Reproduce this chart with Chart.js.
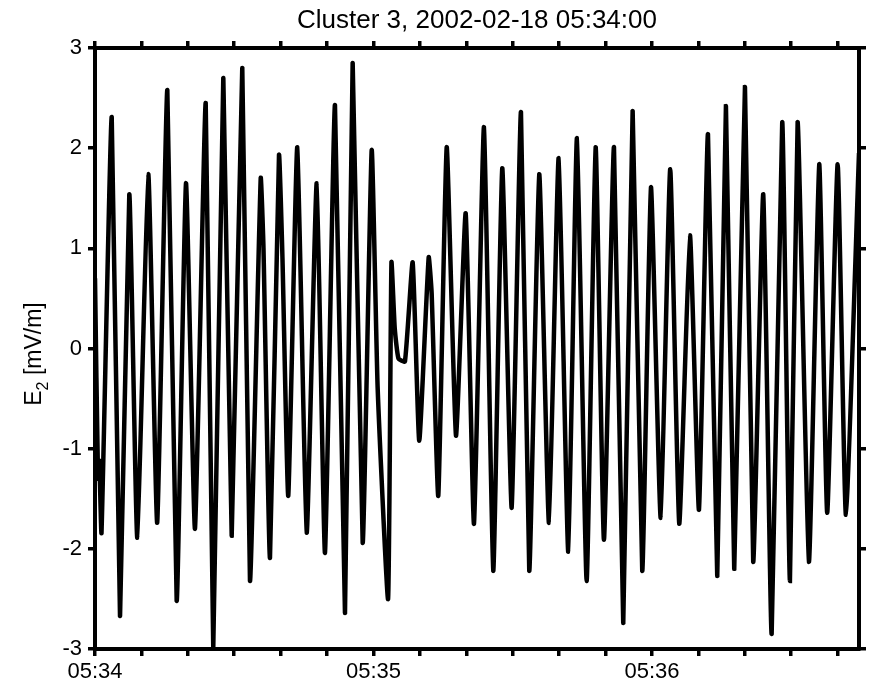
<!DOCTYPE html>
<html>
<head>
<meta charset="utf-8">
<script src="https://cdn.jsdelivr.net/npm/chart.js@4"></script>
<style>
  html, body { margin: 0; padding: 0; background: #ffffff; }
  #wrap { width: 874px; height: 689px; position: relative; }
</style>
</head>
<body>
<div id="wrap"><canvas id="c" width="874" height="689"></canvas></div>
<script>
// Seconds after 05:34:00 UT
const times = [
  0.00, 0.65, 0.93, 1.40, 3.60, 5.39, 7.39, 9.11, 11.48, 13.40,
  15.58, 17.60, 19.60, 21.54, 23.85, 25.48, 27.64, 29.45, 31.73, 33.39,
  35.70, 36.30, 37.70, 39.64, 40.39, 41.64, 43.58, 45.61, 47.76, 49.55,
  51.70, 53.86, 55.51, 57.67, 59.61, 60.90, 63.14, 63.87, 64.58, 65.38,
  66.78, 68.44, 69.86, 71.89, 72.53, 73.96, 75.77, 77.77, 79.86, 81.65,
  83.80, 85.80, 87.74, 89.77, 91.77, 93.56, 95.71, 97.80, 99.89, 101.96,
  103.83, 105.92, 107.86, 109.65, 111.81, 113.81, 115.83, 117.90, 119.78, 121.87,
  123.93, 125.87, 128.18, 130.12, 132.06, 134.06, 135.93, 137.72, 140.03, 141.81,
  143.97, 145.78, 148.06, 149.72, 151.38, 153.81, 156.03, 157.75, 160.00, 161.78,
  164.60
];
// E2 electric field [mV/m]
const e2 = [
  0.70, -1.30, -1.12, -1.84, 2.31, -2.67, 1.54, -1.89, 1.74, -1.74,
  2.58, -2.52, 1.65, -1.80, 2.45, -2.99, 2.70, -1.87, 2.80, -2.32,
  1.70, 1.00, -2.09, 1.93, 0.90, -1.47, 2.01, -1.84, 1.65, -2.04,
  2.43, -2.64, 2.85, -1.94, 1.98, -0.40, -2.50, 0.86, 0.20, -0.10,
  -0.13, 0.86, -0.92, 0.91, 0.55, -1.47, 2.01, -0.87, 1.35, -1.75,
  2.21, -2.22, 1.80, -1.59, 2.36, -2.22, 1.74, -1.74, 1.90, -2.03,
  2.10, -2.32, 2.01, -1.91, 2.01, -2.74, 2.37, -2.22, 1.61, -1.69,
  1.79, -1.75, 1.13, -1.61, 2.14, -2.27, 2.42, -2.20, 2.61, -2.13,
  1.54, -2.85, 2.26, -2.32, 2.26, -2.13, 1.84, -1.64, 1.84, -1.66,
  1.95
];
const minuteTicks = [0, 60, 120];
const minuteLabels = ['05:34', '05:35', '05:36'];
const yTickValues = [-3, -2, -1, 0, 1, 2, 3];

const FONT = '"Liberation Sans", Arial, Helvetica, sans-serif';
const points = times.map((t, i) => ({ x: t, y: e2[i] }));

function xLabel(v) {
  for (let i = 0; i < minuteTicks.length; i++) {
    if (Math.abs(v - minuteTicks[i]) < 1e-6) return minuteLabels[i];
  }
  return '';
}

const gridOpts = {
  drawOnChartArea: false, drawTicks: true, tickLength: 7,
  tickWidth: 3.5, tickColor: '#000', color: '#000', lineWidth: 3.5
};
const borderOpts = { display: true, color: '#000', width: 4 };

const yTitlePlugin = {
  id: 'yTitle',
  afterDraw(chart) {
    const ctx = chart.ctx;
    ctx.save();
    ctx.fillStyle = '#000';
    ctx.textBaseline = 'alphabetic';
    ctx.textAlign = 'left';
    const big = '23px ' + FONT, small = '16px ' + FONT;
    ctx.font = big; const wE = ctx.measureText('E').width;
    const wR = ctx.measureText(' [mV/m]').width;
    ctx.font = small; const w2 = ctx.measureText('2').width;
    const total = wE + w2 + wR;
    ctx.translate(41, 354);
    ctx.rotate(-Math.PI / 2);
    let x0 = -total / 2;
    ctx.font = big; ctx.fillText('E', x0, 0); x0 += wE;
    ctx.font = small; ctx.fillText('2', x0, 7); x0 += w2;
    ctx.font = big; ctx.fillText(' [mV/m]', x0, 0);
    ctx.restore();
  }
};

new Chart(document.getElementById('c'), {
  type: 'line',
  data: {
    datasets: [{
      data: points,
      borderColor: '#000',
      borderWidth: 4.5,
      pointRadius: 0,
      tension: 0.15,
      fill: false
    }]
  },
  options: {
    responsive: false,
    devicePixelRatio: 1,
    animation: false,
    layout: { padding: 0 },
    plugins: {
      legend: { display: false },
      tooltip: { enabled: false },
      title: {
        display: true,
        text: 'Cluster 3, 2002-02-18 05:34:00',
        color: '#000',
        fullSize: false,
        font: { family: FONT, size: 26, weight: 'normal', lineHeight: 1.2 },
        padding: { top: 5, bottom: 0 }
      }
    },
    scales: {
      x: {
        type: 'linear', position: 'bottom', min: 0, max: 164.6,
        afterFit(s) { s.height = 40; },
        ticks: {
          stepSize: 10, includeBounds: false, autoSkip: false, maxRotation: 0,
          color: '#000', padding: 3, font: { family: FONT, size: 22 },
          callback: xLabel
        },
        grid: gridOpts, border: borderOpts
      },
      x2: {
        type: 'linear', position: 'top', min: 0, max: 164.6,
        afterFit(s) { s.height = 11.8; },
        ticks: { stepSize: 10, includeBounds: false, autoSkip: false, display: false },
        grid: gridOpts, border: borderOpts
      },
      y: {
        type: 'linear', position: 'left', min: -3, max: 3,
        afterFit(s) { s.width = 95; },
        afterBuildTicks(s) { s.ticks = yTickValues.map(v => ({ value: v })); },
        ticks: { color: '#000', padding: 6, font: { family: FONT, size: 22 } },
        grid: gridOpts, border: borderOpts
      },
      y2: {
        type: 'linear', position: 'right', min: -3, max: 3,
        afterFit(s) { s.width = 15; },
        afterBuildTicks(s) { s.ticks = yTickValues.map(v => ({ value: v })); },
        ticks: { display: false },
        grid: gridOpts, border: borderOpts
      }
    }
  },
  plugins: [yTitlePlugin]
});
</script>
</body>
</html>
